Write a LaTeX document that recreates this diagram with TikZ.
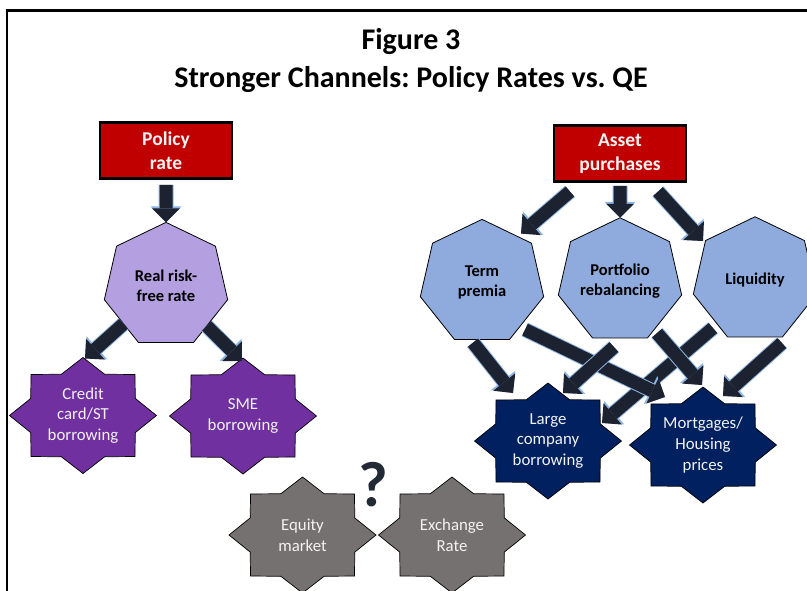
\documentclass[tikz,border=0pt]{standalone}
\usepackage{fontspec}
\setmainfont{Carlito}
\usetikzlibrary{shapes.geometric}
\usetikzlibrary{arrows.meta}
\usetikzlibrary{calc}
\usetikzlibrary{backgrounds}
\usepackage{color}
\frenchspacing

\definecolor{boxred}{HTML}{C00000}
\definecolor{lavender}{HTML}{B4A0E0}
\definecolor{heptblue}{HTML}{8FAADC}
\definecolor{starpurple}{HTML}{7030A0}
\definecolor{starnavy}{HTML}{002060}
\definecolor{stargrey}{HTML}{767171}
\definecolor{arrowdark}{HTML}{1C2230}
\definecolor{arrowrim}{HTML}{8DB4E2}
\definecolor{softwhite}{HTML}{F2F2F2}
\definecolor{qmark}{HTML}{222A35}

% eight point star round a named node
\newcommand{\octostar}[2]{%
  \filldraw[fill=#2, draw=black, line width=.7pt, shift={(#1)}] (73.5,0)
    \foreach \k in {1,...,15}{ -- ({73.5*(1-0.23*mod(\k,2))*cos(22.5*\k)}, {58*(1-0.23*mod(\k,2))*sin(22.5*\k)}) } -- cycle;}

\begin{document}
\begin{tikzpicture}[x=1pt, y=-1pt]
\tikzset{box/.style = {rectangle, draw=black, line width=2.5pt, fill=boxred, text=softwhite, minimum width=132pt, minimum height=56pt, align=center, font=\bfseries\fontsize{19.5}{24}\selectfont}}
\tikzset{heptagon/.style = {regular polygon, regular polygon sides=7, minimum size=126.5pt, inner sep=0pt, outer sep=0pt, draw=black, line width=.8pt, align=center, font=\bfseries\fontsize{16.5}{20}\selectfont}}
\tikzset{starnode/.style = {inner sep=0pt, text=softwhite, align=center, font=\fontsize{16.8}{20.8}\selectfont}}
\tikzset{blockarrow/.style = {draw=arrowdark, line width=13pt, -{Triangle[length=14pt, width=28pt, line width=0pt]}, preaction={draw=arrowrim, line width=15pt, -{Triangle[length=16pt, width=31pt, line width=0pt]}}}}

\useasboundingbox (0,0) rectangle (807,590);
\clip (0,0) rectangle (807,590);
\draw[line width=2.2pt] (7,600) -- (7,10.5) -- (820,10.5);

\node[align=center, font=\bfseries\fontsize{30}{38}\selectfont] (title) at (411,61) {Figure 3\\Stronger Channels: Policy Rates vs. QE};

\node[box] (policy) at (166,150.5) {Policy\\rate};
\node[box] (assets) at (620,153.5) {Asset\\purchases};

\node[heptagon, fill=lavender] (realrate) at (166,285.6) {Real risk-\\free rate};
\node[heptagon, fill=heptblue] (term) at (482,282.6) {Term\\premia};
\node[heptagon, fill=heptblue] (portfolio) at (620,281) {Portfolio\\rebalancing};
\node[heptagon, fill=heptblue] (liquidity) at (755,280) {Liquidity};

\node[starnode] (credit) at (83,415.5) {Credit\\card/ST\\borrowing};
\node[starnode] (sme) at (243,416) {SME\\borrowing};
\node[starnode] (large) at (548,441) {Large\\company\\borrowing};
\node[starnode] (mortgages) at (703,445) {Mortgages/\\Housing\\prices};
\node[starnode] (equity) at (302.5,535) {Equity\\market};
\node[starnode] (exchange) at (452,535) {Exchange\\Rate};

\begin{scope}[on background layer]
\foreach \n/\c in {credit/starpurple, sme/starpurple, large/starnavy, mortgages/starnavy, equity/stargrey, exchange/stargrey}
   {\octostar{\n}{\c}}
\end{scope}

\node[font=\bfseries\fontsize{64}{64}\selectfont, text=qmark] (query) at (373,485) {?};

% policy rate side
\draw[blockarrow, shorten <=5pt] (policy) -- (realrate);
\draw[blockarrow] (realrate) -- ($(credit)+(2,-57)$);
\draw[blockarrow] (realrate) -- ($(sme)+(-1,-55)$);

% asset purchase side
\draw[blockarrow] ($(assets)+(-50,38)$) -- ($(term)+(39,-49)$);
\draw[blockarrow, shorten <=3pt] (assets) -- (portfolio);
\draw[blockarrow] ($(assets)+(38,38)$) -- ($(liquidity)+(-52,-39)$);

\draw[blockarrow] ($(liquidity)+(-42,48)$) -- ($(large)+(54,-18)$);
\draw[blockarrow] ($(term)+(43,47)$) -- ($(mortgages)+(-38,-48)$);
\draw[blockarrow] ($(portfolio)+(-6,66)$) -- ($(large)+(15,-48)$);
\draw[blockarrow] ($(portfolio)+(37,52)$) -- ($(mortgages)+(-1,-60)$);
\draw[blockarrow] ($(term)+(-9,60)$) -- ($(large)+(-35,-48)$);
\draw[blockarrow] ($(liquidity)+(27,63)$) -- ($(mortgages)+(20,-49)$);

\end{tikzpicture}
\end{document}
